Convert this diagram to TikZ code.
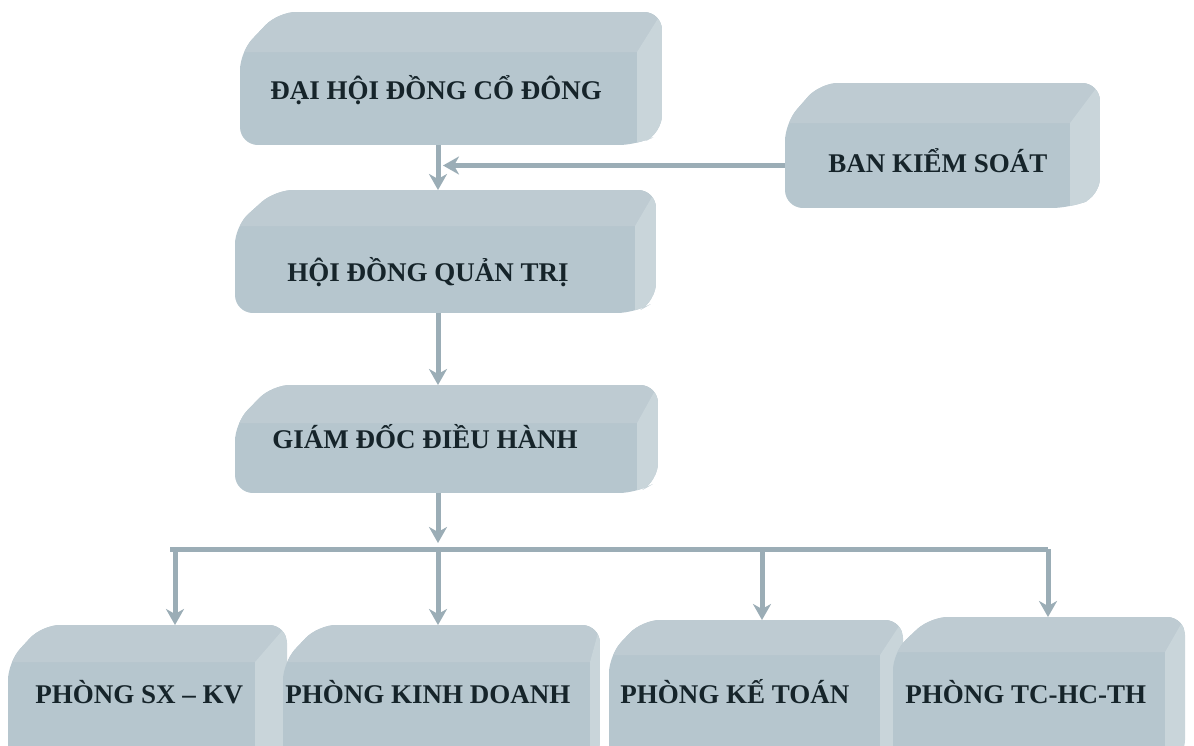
\documentclass[tikz,border=0pt]{standalone}
\usepackage{fontspec}
\setmainfont{Liberation Serif}
\usetikzlibrary{arrows.meta,fit}
\definecolor{frontc}{RGB}{182,198,206}
\definecolor{topc}{RGB}{190,203,210}
\definecolor{sidec}{RGB}{201,213,218}
\definecolor{linec}{RGB}{155,173,182}
\definecolor{txtc}{RGB}{22,36,42}
\newcommand{\blockbox}[9]{%
  \begin{scope}
    \clip[rounded corners=9] (#2,#5) -- (#2,#3) -- (#6,#7) -- (#8,#7) -- (#8,#5-#9) -- (#4,#5) -- cycle;
    \fill[frontc] (#2,#7) rectangle (#8,#5);
    \fill[topc] (#2,#3) -- (#6,#7) -- (#8,#7) -- (#4,#3) -- cycle;
    \fill[sidec] (#4,#3) -- (#8,#7) -- (#8,#5) -- (#4,#5) -- cycle;
  \end{scope}
  \node[fit={(#2,#3) (#4,#5)}, inner sep=0pt] (#1) {};
  \coordinate (#1-back) at ({(#6+#8)/2},#7);
}
\begin{document}
\begin{tikzpicture}[x=0.5pt,y=-0.5pt,
  lbl/.style={anchor=base west, inner sep=0pt, text=txtc,
    font=\fontsize{13.5}{16}\selectfont\bfseries},
  conn/.style={draw=linec, line width=2.5pt,
    -{Stealth[length=8pt,width=9pt,inset=2.5pt,fill=linec]}},
  busline/.style={draw=linec, line width=2.5pt}]
\useasboundingbox (0,0) rectangle (1194,745);
\fill[white] (0,0) rectangle (1194,745);
\clip (0,0) rectangle (1194,745);

\blockbox{A}{240}{52}{637}{145}{278}{12}{662}{12}
\blockbox{B}{785}{123}{1070}{208}{820}{83}{1100}{12}
\blockbox{C}{235}{226}{635}{313}{275}{190}{656}{12}
\blockbox{D}{235}{423}{637}{493}{272}{385}{658}{12}
\blockbox{E}{8}{662}{255}{770}{42}{625}{287}{12}
\blockbox{F}{283}{662}{590}{770}{318}{625}{600}{12}
\blockbox{G}{609}{655}{880}{770}{642}{620}{903}{12}
\blockbox{H}{893}{652}{1165}{770}{930}{617}{1185}{12}

\node[lbl] (tA) at (270,99) {ĐẠI HỘI ĐỒNG CỔ ĐÔNG};
\node[lbl] (tB) at (828,172) {BAN KIỂM SOÁT};
\node[lbl] (tC) at (287,281) {HỘI ĐỒNG QUẢN TRỊ};
\node[lbl] (tD) at (272,448) {GIÁM ĐỐC ĐIỀU HÀNH};
\node[lbl] (tE) at (35,703) {PHÒNG SX – KV};
\node[lbl] (tF) at (285,703) {PHÒNG KINH DOANH};
\node[lbl] (tG) at (620,703) {PHÒNG KẾ TOÁN};
\node[lbl] (tH) at (905,703) {PHÒNG TC-HC-TH};

\coordinate (tx) at (438,0);
\coordinate (busL) at (170,549);
\coordinate (busR) at (1048,549);
\coordinate (dE) at (175,549);
\coordinate (dG) at (762,549);

\draw[conn] (A.south -| tx) -- (tx |- C-back);
\draw[conn, shorten >=2.5pt] (B.west) -- (B.west -| tx);
\draw[conn] (C.south -| tx) -- (tx |- D-back);
\draw[conn, shorten >=3pt] (D.south -| tx) -- (tx |- busL);
\draw[busline] (busL) -- (busR);
\draw[conn] (dE) -- (dE |- E-back);
\draw[conn] (tx |- busL) -- (tx |- F-back);
\draw[conn] (dG) -- (dG |- G-back);
\draw[conn] (busR) -- (busR |- H-back);
\end{tikzpicture}
\end{document}
